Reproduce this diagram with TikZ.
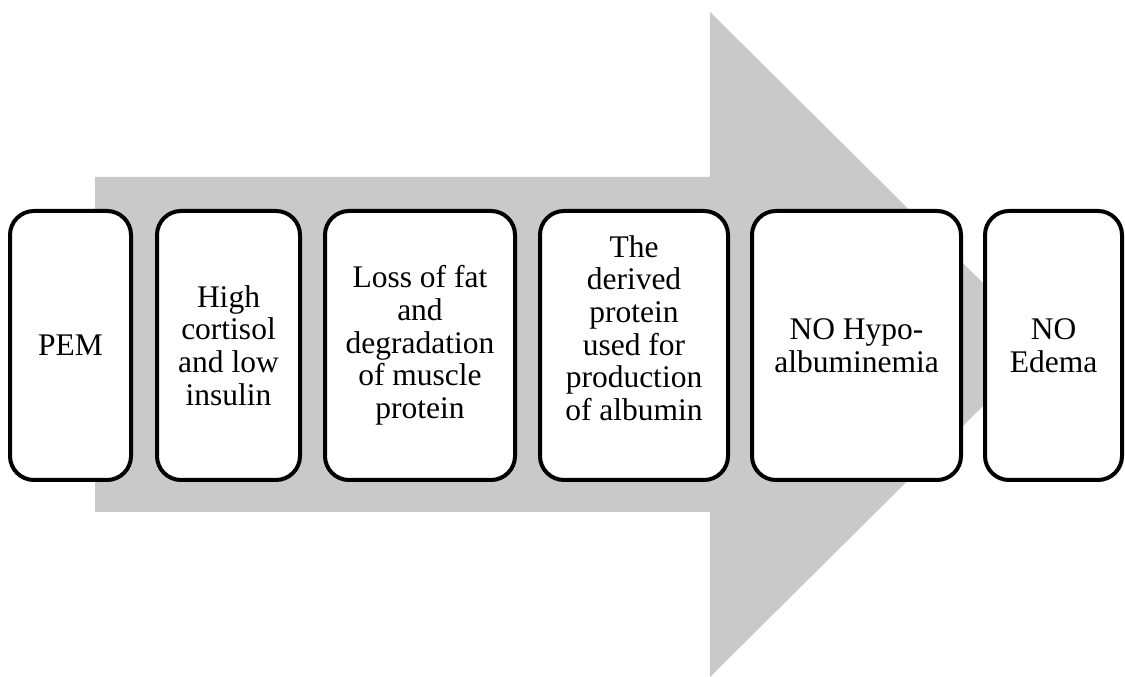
\documentclass[tikz,border=0pt]{standalone}
\usepackage{fontspec}
\setmainfont{Liberation Serif}
\definecolor{arrowgray}{RGB}{201,201,201}
\begin{document}
\begin{tikzpicture}[x=1pt,y=1pt,
  stepbox/.style={draw=black, line width=4pt, fill=white, rounded corners=24pt,
    minimum height=269pt, inner sep=0pt, align=center,
    font=\fontsize{31.5}{32.7}\selectfont},
  txt/.style={align=center, inner sep=0pt, font=\fontsize{31.5}{32.7}\selectfont}]
\useasboundingbox (0,0) rectangle (1125,677);
\fill[arrowgray] (95,500) -- (710,500) -- (710,665) -- (1045,332.5) -- (710,0) -- (710,165) -- (95,165) -- cycle;
\node[stepbox, minimum width=121pt] (b1) at (70.5,331.5) {PEM};
\node[stepbox, minimum width=143pt] (b2) at (228.5,331.5) {High\\cortisol\\and low\\insulin};
\node[stepbox, minimum width=190pt] (b3) at (420,331.5) {Loss of fat\\and\\degradation\\of muscle\\protein};
\node[stepbox, minimum width=188pt] (b4) at (634,331.5) {};
\node[txt] (t4) at (634,349) {The\\derived\\protein\\used for\\production\\of albumin};
\node[stepbox, minimum width=209pt] (b5) at (856.5,331.5) {NO Hypo-\\albuminemia};
\node[stepbox, minimum width=137pt] (b6) at (1053.5,331.5) {NO\\Edema};
\end{tikzpicture}
\end{document}
